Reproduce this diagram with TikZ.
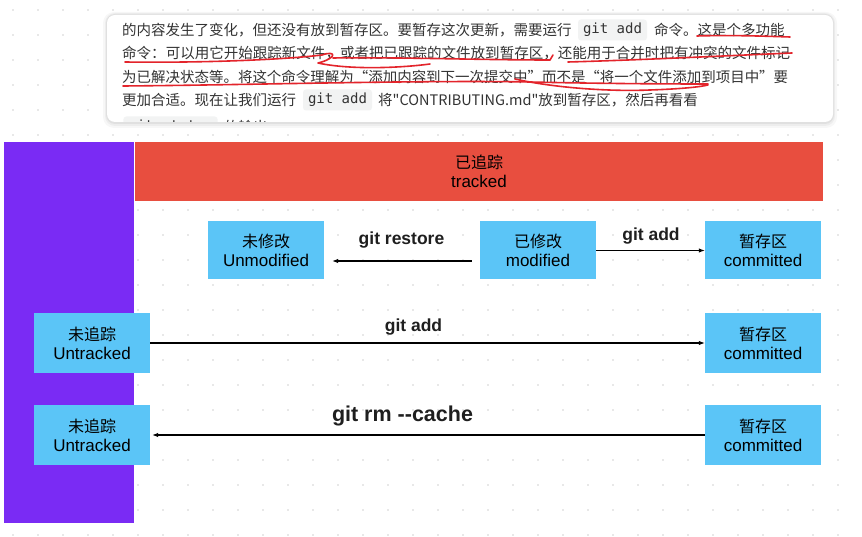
\documentclass[tikz,border=0pt]{standalone}
\usepackage{fontspec}
\usepackage{graphicx}
\setmainfont{Liberation Sans}
\newfontfamily\cjk{Noto Sans CJK SC}
\newfontfamily\monof{DejaVu Sans Mono}
\usetikzlibrary{arrows.meta}
\definecolor{purp}{HTML}{7A2BF4}
\definecolor{redbar}{HTML}{E84E3F}
\definecolor{boxblue}{HTML}{5BC5F7}
\definecolor{txt}{HTML}{333333}
\definecolor{codebg}{HTML}{F2F3F3}
\definecolor{dotc}{HTML}{D2D2D2}
\definecolor{pen}{HTML}{E3242B}
\tikzset{
  bx/.style={fill=boxblue, minimum width=116pt, inner sep=0pt, align=center, text=black,
    font=\fontsize{17pt}{19pt}\selectfont},
  lbl/.style={inner sep=0pt, text=black!88, font=\bfseries\fontsize{17.5pt}{20pt}\selectfont},
  arr/.style={-{Latex[length=6pt,width=4.5pt]}, line width=1.1pt, black},
  para/.style={inner sep=0pt, anchor=base west, text=txt, font=\cjk\fontsize{14.5pt}{17pt}\selectfont},
  codebox/.style={fill=codebg, rounded corners=3pt, inner xsep=5pt, inner ysep=0pt, minimum height=21pt,
    text=txt, font=\monof\fontsize{14pt}{16pt}\selectfont},
  pen/.style={draw=pen, line width=1.6pt, line cap=round, line join=round},
}
\newcommand{\zh}[1]{{\cjk\fontsize{16pt}{19pt}\selectfont #1}}
\newcommand{\myopq}{\makebox[1em][r]{“}}
\newcommand{\myclq}{\makebox[1em][l]{”}}
\begin{document}
\begin{tikzpicture}[x=1pt,y=-1pt]
\useasboundingbox (0,0) rectangle (862,537);
\fill[white] (0,0) rectangle (862,537);
% dotted grid
\foreach \i in {0,...,34} {
  \foreach \j in {0,...,21} {
    \fill[dotc] (13+25*\i, 10+25*\j) circle (0.9pt);
  }
}
% card with shadow
\fill[black, opacity=0.03, rounded corners=11pt] (103,12) rectangle (837,128);
\fill[black, opacity=0.04, rounded corners=10pt] (105,13) rectangle (835,126);
\fill[black, opacity=0.05, rounded corners=9pt] (106,14) rectangle (834,124);
\fill[white, rounded corners=8pt] (107,15) rectangle (833,122);
\begin{scope}
\clip[rounded corners=8pt] (107,15) rectangle (833,122);
\node[para] (p1a) at (122,35.5) {的内容发生了变化，但还没有放到暂存区。要暂存这次更新，需要运行};
\node[codebox] (c1) at (612.5,30) {git add};
\node[para] (p1b) at (654,35.5) {命令。这是个多功能};
\node[para] (p2) at (122,59) {\resizebox{668pt}{\height}{命令：可以用它开始跟踪新文件，或者把已跟踪的文件放到暂存区，还能用于合并时把有冲突的文件标记}};
\node[para] (p3) at (122,82.5) {\resizebox{666pt}{\height}{为已解决状态等。将这个命令理解为\myopq 添加内容到下一次提交中\myclq 而不是\myopq 将一个文件添加到项目中\myclq 要}};
\node[para] (p4a) at (122,105.5) {更加合适。现在让我们运行};
\node[codebox] (c4) at (337.5,100) {git add};
\node[para] (p4b) at (378,105.5) {将"CONTRIBUTING.md"放到暂存区，然后再看看};
\node[codebox] (c5) at (170.5,127) {git status};
\node[para] (p5) at (224,132.5) {的输出：};
\end{scope}
% red pen strokes
\draw[pen] (697,36) .. controls (730,35) and (760,36) .. (790,37);
\draw[pen] (125,62) .. controls (200,63) and (280,60) .. (322,55)
  .. controls (336,50) and (338,58) .. (318,63)
  .. controls (350,70) and (400,68) .. (430,64);
\draw[pen] (333,58) .. controls (400,57) and (480,60) .. (550,60) -- (553,55);
\draw[pen] (568,62) .. controls (640,60) and (720,56) .. (792,53);
\draw[pen] (123,86) .. controls (250,85) and (420,80) .. (530,82)
  .. controls (620,84) and (690,84) .. (708,84);
\draw[pen] (515,79) .. controls (545,86) and (600,92) .. (650,90)
  .. controls (680,89) and (700,87) .. (708,85);
% big regions
\fill[purp] (4,142) rectangle (134,523);
\node[fill=redbar, minimum width=688pt, minimum height=59pt, inner sep=0pt, align=center,
  font=\fontsize{17pt}{19pt}\selectfont] (trk) at (479,171.5) {\zh{已追踪}\\tracked};
% state boxes
\node[bx, minimum height=58pt] (unmod) at (266,250.5) {\zh{未修改}\\Unmodified};
\node[bx, minimum height=58pt] (mod) at (538,250.5) {\zh{已修改}\\modified};
\node[bx, minimum height=58pt] (com1) at (763,250.5) {\zh{暂存区}\\committed};
\node[bx, minimum height=60pt] (untr1) at (92,343) {\zh{未追踪}\\Untracked};
\node[bx, minimum height=60pt] (com2) at (763,343) {\zh{暂存区}\\committed};
\node[bx, minimum height=60pt] (untr2) at (92,435) {\zh{未追踪}\\Untracked};
\node[bx, minimum height=60pt] (com3) at (763,435) {\zh{暂存区}\\committed};
% connectors
\draw[arr] ([xshift=-8pt,yshift=-10.5pt]mod.west) -- ([xshift=8pt,yshift=-10.5pt]unmod.east);
\draw[arr] (mod.east) -- (com1.west);
\draw[arr] (untr1.east) -- (com2.west);
\draw[arr, shorten >=2pt] (com3.west) -- (untr2.east);
% labels
\node[lbl] (lres) at (401.5,240) {git restore};
\node[lbl] (ladd1) at (651,236) {git add};
\node[lbl] (ladd2) at (413.5,327) {git add};
\node[lbl, font=\bfseries\fontsize{21.5pt}{24pt}\selectfont] (lrm) at (402.5,416) {git rm -{}-cache};
\end{tikzpicture}
\end{document}
